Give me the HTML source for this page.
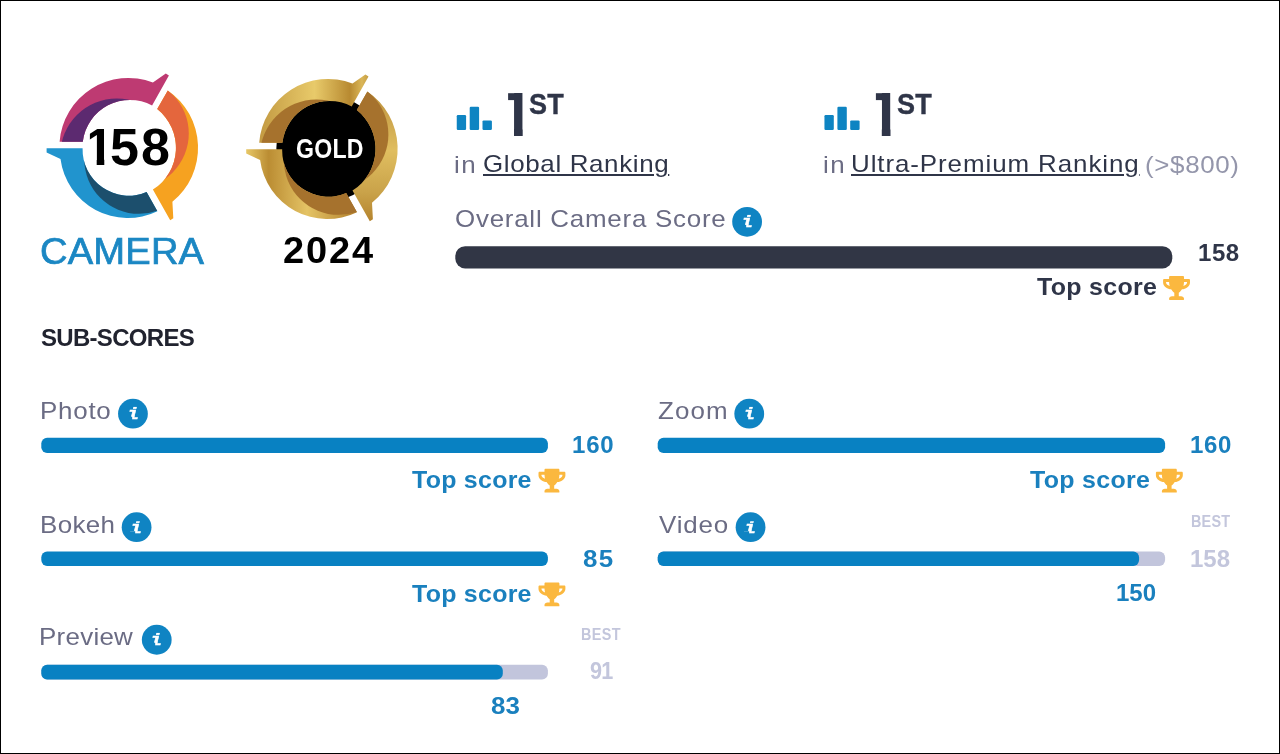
<!DOCTYPE html>
<html lang="en">
<head>
<meta charset="utf-8">
<title>Camera Score</title>
<style>
html,body{margin:0;padding:0;background:#fff;}
body{width:1280px;height:754px;position:relative;overflow:hidden;font-family:"Liberation Sans",sans-serif;}
#frame{position:absolute;left:0;top:0;width:1278px;height:752px;border:1px solid #000;pointer-events:none;z-index:5;}
#page{position:absolute;left:0;top:0;width:1280px;height:754px;filter:blur(0.4px);}
.g{position:absolute;left:0;top:0;width:0;height:0;}
.t{display:block;position:absolute;white-space:nowrap;line-height:1;margin:0;padding:0;transform-origin:0 0;}
.lbl{color:#6b6c84;}
.sb{font-weight:bold;}
.navy{color:#2f3548;}
.blue{color:#1a80be;}
.pale{color:#c3c6dc;}
.one{font-size:62.4px;clip-path:polygon(14.5px 0,23.2px 0,23.2px 100%,14.5px 100%);}
.ii{color:#fff;font-family:"Liberation Mono",monospace;font-style:italic;font-weight:bold;-webkit-text-stroke:0.5px #fff;clip-path:polygon(0 0,100% 0,100% 100%,4.3px 100%,4.3px 10.1px,0 10.1px);}
svg{position:absolute;left:0;top:0;}
a{color:inherit;text-decoration:none;}
a.ul{text-decoration:underline;text-decoration-thickness:2px;text-underline-offset:2px;}
body.nou a.ul{text-decoration:none;}
</style>
</head>
<body>
<div id="frame"></div>
<div id="page">
<svg id="art" width="1280" height="754" viewBox="0 0 1280 754">
<g transform="translate(0,0)">
<clipPath id="cm"><path d="M59.60,141.70 A69.05 69.05 0 0 1 152.90,82.40 L165.80,73.40 L168.90,75.40 L152.10,105.50 A47.36 47.36 0 0 0 82.80,141.70 Z"/></clipPath>
<path d="M59.60,141.70 A69.05 69.05 0 0 1 152.90,82.40 L165.80,73.40 L168.90,75.40 L152.10,105.50 A47.36 47.36 0 0 0 82.80,141.70 Z" fill="#be3a72"/>
<circle cx="116.8" cy="154.83" r="56.44" fill="#5c2a70" clip-path="url(#cm)"/>
<clipPath id="co"><path d="M167.80,90.40 A69.64 69.64 0 0 1 172.40,201.80 L173.30,218.20 L170.20,220.30 L152.90,189.60 A49.37 49.37 0 0 0 157.20,109.10 Z"/></clipPath>
<path d="M167.80,90.40 A69.64 69.64 0 0 1 172.40,201.80 L173.30,218.20 L170.20,220.30 L152.90,189.60 A49.37 49.37 0 0 0 157.20,109.10 Z" fill="#f6a220"/>
<circle cx="133.86" cy="133.59" r="54.92" fill="#e4663d" clip-path="url(#co)"/>
<clipPath id="cb"><path d="M157.40,211.20 A67.78 67.78 0 0 1 60.50,159.10 L46.60,152.40 L46.60,148.20 L82.60,148.20 A46.05 46.05 0 0 0 146.60,192.00 Z"/></clipPath>
<path d="M157.40,211.20 A67.78 67.78 0 0 1 60.50,159.10 L46.60,152.40 L46.60,148.20 L82.60,148.20 A46.05 46.05 0 0 0 146.60,192.00 Z" fill="#2194ce"/>
<circle cx="139.2" cy="158.84" r="55.02" fill="#1c4f6d" clip-path="url(#cb)"/>
</g>
<defs>
<linearGradient id="grm" gradientUnits="userSpaceOnUse" x1="60" y1="0" x2="170" y2="0"><stop offset="0" stop-color="#c39a42"/><stop offset="0.5" stop-color="#e8ca6a"/><stop offset="0.82" stop-color="#b88a31"/><stop offset="0.93" stop-color="#dab658"/><stop offset="1" stop-color="#c29a41"/></linearGradient>
<linearGradient id="gro" gradientUnits="userSpaceOnUse" x1="0" y1="92" x2="0" y2="220"><stop offset="0" stop-color="#bd923d"/><stop offset="0.45" stop-color="#e0be60"/><stop offset="0.78" stop-color="#c9a249"/><stop offset="1" stop-color="#b5842e"/></linearGradient>
<linearGradient id="grb" gradientUnits="userSpaceOnUse" x1="47" y1="0" x2="157" y2="0"><stop offset="0" stop-color="#e6c666"/><stop offset="0.2" stop-color="#bb8d33"/><stop offset="0.55" stop-color="#e4c365"/><stop offset="1" stop-color="#b2802c"/></linearGradient>
</defs>
<g transform="translate(199.6,1)">
<circle cx="129.3" cy="147.3" r="52.5" fill="#000"/>
<clipPath id="gm"><path d="M59.60,141.70 A69.05 69.05 0 0 1 152.90,82.40 L165.80,73.40 L168.90,75.40 L152.10,105.50 A47.36 47.36 0 0 0 82.80,141.70 Z"/></clipPath>
<path d="M59.60,141.70 A69.05 69.05 0 0 1 152.90,82.40 L165.80,73.40 L168.90,75.40 L152.10,105.50 A47.36 47.36 0 0 0 82.80,141.70 Z" fill="url(#grm)"/>
<circle cx="116.8" cy="154.83" r="56.44" fill="#a6722d" clip-path="url(#gm)"/>
<clipPath id="go"><path d="M167.80,90.40 A69.64 69.64 0 0 1 172.40,201.80 L173.30,218.20 L170.20,220.30 L152.90,189.60 A49.37 49.37 0 0 0 157.20,109.10 Z"/></clipPath>
<path d="M167.80,90.40 A69.64 69.64 0 0 1 172.40,201.80 L173.30,218.20 L170.20,220.30 L152.90,189.60 A49.37 49.37 0 0 0 157.20,109.10 Z" fill="url(#gro)"/>
<circle cx="133.86" cy="133.59" r="54.92" fill="#a6722d" clip-path="url(#go)"/>
<clipPath id="gb"><path d="M157.40,211.20 A67.78 67.78 0 0 1 60.50,159.10 L46.60,152.40 L46.60,148.20 L82.60,148.20 A46.05 46.05 0 0 0 146.60,192.00 Z"/></clipPath>
<path d="M157.40,211.20 A67.78 67.78 0 0 1 60.50,159.10 L46.60,152.40 L46.60,148.20 L82.60,148.20 A46.05 46.05 0 0 0 146.60,192.00 Z" fill="url(#grb)"/>
<circle cx="139.2" cy="158.84" r="55.02" fill="#a6722d" clip-path="url(#gb)"/>
</g>
<rect x="456.75" y="115" width="9.35" height="15" rx="1.2" fill="#0e84c2"/>
<rect x="469.7" y="106.7" width="9.4" height="23.3" rx="1.2" fill="#0e84c2"/>
<rect x="482.5" y="120.4" width="9.4" height="9.6" rx="1.2" fill="#0e84c2"/>
<rect x="824.45" y="115" width="9.35" height="15" rx="1.2" fill="#0e84c2"/>
<rect x="837.4" y="106.7" width="9.4" height="23.3" rx="1.2" fill="#0e84c2"/>
<rect x="850.2" y="120.4" width="9.4" height="9.6" rx="1.2" fill="#0e84c2"/>
<rect x="508.1" y="93.2" width="6.5" height="6.9" fill="#2f3548"/><rect x="875.9" y="93.2" width="6.5" height="6.9" fill="#2f3548"/>
<rect x="455.3" y="246.2" width="717" height="22.2" rx="9.8" fill="#313645"/>
<rect x="41.3" y="437.8" width="506.6" height="15.2" rx="5.8" fill="#0881c2"/>
<rect x="41.3" y="551.6" width="506.6" height="14.3" rx="5.8" fill="#0881c2"/>
<rect x="41.3" y="664.8" width="506.6" height="14.7" rx="5.8" fill="#c2c5dc"/>
<rect x="41.3" y="664.8" width="461.5" height="14.7" rx="5.8" fill="#0881c2"/>
<rect x="657.7" y="437.8" width="507.4" height="15.2" rx="5.8" fill="#0881c2"/>
<rect x="657.7" y="551.6" width="507.4" height="14.3" rx="5.8" fill="#c2c5dc"/>
<rect x="657.7" y="551.6" width="481.4" height="14.3" rx="5.8" fill="#0881c2"/>
<circle cx="747.1" cy="221.8" r="14.9" fill="#0f84c3"/>
<circle cx="132.95" cy="413.7" r="14.9" fill="#0f84c3"/>
<circle cx="136.6" cy="527.2" r="14.9" fill="#0f84c3"/>
<circle cx="156.75" cy="639.75" r="14.9" fill="#0f84c3"/>
<circle cx="749.25" cy="413.7" r="14.9" fill="#0f84c3"/>
<circle cx="750.55" cy="527.2" r="14.9" fill="#0f84c3"/>
<path transform="translate(1163.1,276) scale(0.04670)" d="M552 64H448V24c0-13.3-10.7-24-24-24H152c-13.3 0-24 10.7-24 24v40H24C10.700 64 0 74.700 0 88v56c0 35.700 22.500 72.400 61.900 100.700 31.500 22.700 69.800 37.100 110 41.700C203.300 338.500 240 360 240 360v72h-48c-35.300 0-64 20.700-64 56v12c0 6.600 5.400 12 12 12h296c6.600 0 12-5.400 12-12v-12c0-35.300-28.700-56-64-56h-48v-72s36.700-21.500 68.100-73.600c40.300-4.600 78.600-19 110-41.700 39.300-28.300 61.900-65 61.900-100.700V88c0-13.300-10.700-24-24-24zM99.300 192.800C74.900 175.200 64 155.600 64 144v-16h64.200c1 32.600 5.800 61.200 12.800 86.200-15.100-5.200-29.200-12.400-41.700-21.400zM512 144c0 16.100-17.700 36.100-35.300 48.800-12.500 9-26.700 16.200-41.800 21.400 7-25 11.800-53.600 12.800-86.200H512v16z" fill="#fbb83f"/>
<path transform="translate(538.5,468.7) scale(0.04670)" d="M552 64H448V24c0-13.3-10.7-24-24-24H152c-13.3 0-24 10.7-24 24v40H24C10.700 64 0 74.700 0 88v56c0 35.700 22.500 72.400 61.900 100.700 31.500 22.700 69.800 37.100 110 41.700C203.300 338.500 240 360 240 360v72h-48c-35.300 0-64 20.700-64 56v12c0 6.600 5.400 12 12 12h296c6.600 0 12-5.400 12-12v-12c0-35.300-28.700-56-64-56h-48v-72s36.700-21.500 68.100-73.600c40.300-4.600 78.600-19 110-41.700 39.300-28.300 61.900-65 61.900-100.700V88c0-13.300-10.700-24-24-24zM99.300 192.800C74.900 175.200 64 155.600 64 144v-16h64.200c1 32.600 5.800 61.200 12.800 86.200-15.100-5.200-29.200-12.400-41.700-21.400zM512 144c0 16.100-17.700 36.100-35.300 48.800-12.500 9-26.700 16.200-41.800 21.400 7-25 11.800-53.600 12.800-86.200H512v16z" fill="#fbb83f"/>
<path transform="translate(538.5,582.4) scale(0.04670)" d="M552 64H448V24c0-13.3-10.7-24-24-24H152c-13.3 0-24 10.7-24 24v40H24C10.700 64 0 74.700 0 88v56c0 35.700 22.500 72.400 61.900 100.700 31.500 22.700 69.800 37.100 110 41.700C203.300 338.500 240 360 240 360v72h-48c-35.300 0-64 20.700-64 56v12c0 6.600 5.400 12 12 12h296c6.600 0 12-5.400 12-12v-12c0-35.300-28.700-56-64-56h-48v-72s36.700-21.500 68.100-73.600c40.300-4.600 78.600-19 110-41.700 39.300-28.300 61.900-65 61.900-100.700V88c0-13.300-10.700-24-24-24zM99.300 192.800C74.900 175.200 64 155.600 64 144v-16h64.200c1 32.600 5.800 61.200 12.800 86.200-15.100-5.200-29.200-12.400-41.700-21.400zM512 144c0 16.100-17.700 36.100-35.300 48.800-12.500 9-26.700 16.200-41.800 21.400 7-25 11.800-53.600 12.800-86.200H512v16z" fill="#fbb83f"/>
<path transform="translate(1155.9,468.7) scale(0.04670)" d="M552 64H448V24c0-13.3-10.7-24-24-24H152c-13.3 0-24 10.7-24 24v40H24C10.700 64 0 74.700 0 88v56c0 35.700 22.500 72.400 61.900 100.700 31.500 22.700 69.800 37.100 110 41.700C203.300 338.500 240 360 240 360v72h-48c-35.300 0-64 20.700-64 56v12c0 6.600 5.400 12 12 12h296c6.600 0 12-5.400 12-12v-12c0-35.300-28.700-56-64-56h-48v-72s36.700-21.500 68.100-73.600c40.300-4.600 78.600-19 110-41.700 39.300-28.300 61.900-65 61.900-100.700V88c0-13.300-10.700-24-24-24zM99.300 192.800C74.900 175.200 64 155.600 64 144v-16h64.200c1 32.600 5.800 61.200 12.800 86.200-15.100-5.200-29.200-12.400-41.700-21.400zM512 144c0 16.100-17.700 36.100-35.300 48.800-12.500 9-26.700 16.200-41.800 21.400 7-25 11.800-53.600 12.800-86.200H512v16z" fill="#fbb83f"/>

</svg>
<div class="g"><span class="t sb" id="sc1" style="left:84.7px;top:121px;font-size:52px;color:#000;clip-path:polygon(5.2px 0,19.6px 0,19.6px 100%,12px 100%,12px 37.9px,5.2px 37.9px);">1</span><span class="t " id="score" style="left:110px;top:121px;font-size:52px;letter-spacing:2.2px;font-weight:bold;color:#000;">58</span></div>
<div class="g"><span class="t sb navy one" id="r1n" style="left:499.5px;top:84.3px;">1</span><span class="t sb navy" id="r1s" style="left:529px;top:89px;font-size:30px;letter-spacing:0.3px;transform:scaleX(0.9);-webkit-text-stroke:0.4px #2f3548;">ST</span></div>
<div class="g"><span class="t sb navy one" id="r2n" style="left:867.3px;top:84.3px;">1</span><span class="t sb navy" id="r2s" style="left:897px;top:89px;font-size:30px;letter-spacing:0.3px;transform:scaleX(0.9);-webkit-text-stroke:0.4px #2f3548;">ST</span></div>
<div class="g"><span class="t lbl" id="r1in" style="left:454px;top:153px;font-size:24px;letter-spacing:1.4px;transform:scaleX(1.08);">in</span> <span class="t navy" id="r1g" style="left:483px;top:152px;font-size:24px;letter-spacing:0.6px;transform:scaleX(1.08);"><a class="ul" href="#">Global Ranking</a></span></div>
<div class="g"><span class="t lbl" id="r2in" style="left:823px;top:153px;font-size:24px;letter-spacing:1.4px;transform:scaleX(1.08);">in</span> <span class="t navy" id="r2u" style="left:850.5px;top:152px;font-size:24px;letter-spacing:0.85px;transform:scaleX(1.08);"><a class="ul" href="#">Ultra-Premium Ranking</a></span> <span class="t " id="r2p" style="left:1145px;top:153px;font-size:24px;letter-spacing:0.6px;transform:scaleX(1.08);color:#9496ab;">(&gt;$800)</span></div>
<div class="t " id="camera" style="left:40px;top:234px;font-size:36px;letter-spacing:0.15px;transform:scaleX(1.06);color:#1b87c3;-webkit-text-stroke:0.7px #1b87c3;">CAMERA</div>
<div class="t " id="gold" style="left:296px;top:135px;font-size:27.5px;letter-spacing:0.3px;transform:scaleX(0.84);color:#fff;font-weight:bold;">GOLD</div>
<div class="t " id="year" style="left:282.5px;top:233px;font-size:36.5px;letter-spacing:1.85px;transform:scaleX(1.04);font-weight:bold;color:#000;">2024</div>
<div class="t lbl" id="ocs" style="left:454.5px;top:207px;font-size:24px;letter-spacing:0.7px;transform:scaleX(1.08);">Overall Camera Score</div>
<div class="t sb navy" id="oval" style="left:1198px;top:241px;font-size:24px;letter-spacing:0.55px;">158</div>
<div class="t sb navy" id="otop" style="left:1037px;top:275px;font-size:24px;letter-spacing:0.3px;transform:scaleX(1.04);">Top score</div>
<div class="t sb" id="subs" style="left:41px;top:326px;font-size:24px;letter-spacing:-0.7px;color:#21232f;">SUB-SCORES</div>
<div class="t lbl" id="l1" style="left:40px;top:399px;font-size:24px;letter-spacing:0.7px;transform:scaleX(1.08);">Photo</div>
<div class="t sb blue" id="v1" style="left:572px;top:433px;font-size:24px;letter-spacing:0.8px;">160</div>
<div class="t sb blue" id="ts1" style="left:412px;top:468px;font-size:24px;letter-spacing:0.25px;transform:scaleX(1.04);">Top score</div>
<div class="t lbl" id="l2" style="left:39.5px;top:513px;font-size:24px;letter-spacing:0.35px;transform:scaleX(1.08);">Bokeh</div>
<div class="t sb blue" id="v2" style="left:582.5px;top:547px;font-size:24px;letter-spacing:1.3px;transform:scaleX(1.08);">85</div>
<div class="t sb blue" id="ts2" style="left:412px;top:582px;font-size:24px;letter-spacing:0.25px;transform:scaleX(1.04);">Top score</div>
<div class="t lbl" id="l3" style="left:39px;top:625px;font-size:24px;letter-spacing:0.25px;transform:scaleX(1.08);">Preview</div>
<div class="t sb pale" id="b3" style="left:581px;top:627px;font-size:16px;letter-spacing:0.45px;transform:scaleX(0.9);">BEST</div>
<div class="t sb pale" id="bv3" style="left:590px;top:659px;font-size:24px;letter-spacing:-0.95px;transform:scaleX(0.9);">91</div>
<div class="t sb blue" id="v3" style="left:491px;top:694px;font-size:24px;transform:scaleX(1.08);">83</div>
<div class="t lbl" id="l4" style="left:657.5px;top:399px;font-size:24px;letter-spacing:1px;transform:scaleX(1.08);">Zoom</div>
<div class="t sb blue" id="v4" style="left:1190px;top:433px;font-size:24px;letter-spacing:0.6px;">160</div>
<div class="t sb blue" id="ts4" style="left:1029.5px;top:468px;font-size:24px;letter-spacing:0.3px;transform:scaleX(1.04);">Top score</div>
<div class="t lbl" id="l5" style="left:658.5px;top:513px;font-size:24px;letter-spacing:0.8px;transform:scaleX(1.08);">Video</div>
<div class="t sb pale" id="b5" style="left:1191px;top:514px;font-size:16px;letter-spacing:0.25px;transform:scaleX(0.9);">BEST</div>
<div class="t sb pale" id="bv5" style="left:1190px;top:547px;font-size:24px;">158</div>
<div class="t sb blue" id="v5" style="left:1116px;top:581px;font-size:24px;">150</div>
<div class="t ii" id="i0" style="left:740.5px;top:214.8px;font-size:16.5px;transform:scaleX(1.2);">i</div>
<div class="t ii" id="i1" style="left:126.5px;top:406.7px;font-size:16.5px;transform:scaleX(1.2);">i</div>
<div class="t ii" id="i2" style="left:130px;top:521.2px;font-size:16.5px;transform:scaleX(1.2);">i</div>
<div class="t ii" id="i3" style="left:150px;top:632.75px;font-size:16.5px;transform:scaleX(1.2);">i</div>
<div class="t ii" id="i4" style="left:742.5px;top:406.7px;font-size:16.5px;transform:scaleX(1.2);">i</div>
<div class="t ii" id="i5" style="left:744px;top:521.2px;font-size:16.5px;transform:scaleX(1.2);">i</div>
</div>
</body>
</html>
